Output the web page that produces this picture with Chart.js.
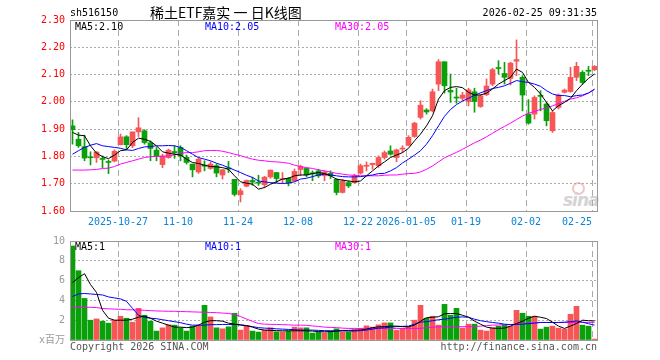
<!DOCTYPE html>
<html lang="zh">
<head>
<meta charset="UTF-8">
<title>稀土ETF嘉实 日K线图</title>
<script src="https://cdn.jsdelivr.net/npm/chart.js"></script>
<style>
  body { margin: 0; background: #fff; }
  .wrap { position: relative; width: 660px; height: 360px; overflow: hidden;
          font-family: "DejaVu Sans Mono", monospace; font-size: 10px; }
  .wrap canvas { position: absolute; left: 0; }
  #kChart { top: 0; }
  #volChart { top: 230px; }
  .txt { position: absolute; white-space: pre; line-height: 10px; z-index: 2; }
  .title { font-family: "Noto Sans CJK SC", sans-serif; font-size: 14px; line-height: 14px; }
  .logo { position: absolute; left: 563px; top: 190px; font: italic bold 17px "DejaVu Sans", sans-serif;
          color: #d4d4d4; letter-spacing: -1px; }
  .eye { position: absolute; left: 572px; top: 182px; width: 9px; height: 9px; border-radius: 50%;
         border: 2px solid #f2c4c4; }
</style>
</head>
<body>
<div class="wrap">
  <div class="eye"></div>
  <div class="logo">sina</div>
  <canvas id="kChart" width="660" height="230"></canvas>
  <canvas id="volChart" width="660" height="130"></canvas>
  <div class="txt" style="left:70px;top:8px;">sh516150</div>
  <div class="txt title" style="left:150px;top:5px;">稀土ETF嘉实 一 日K线图</div>
  <div class="txt" style="right:63px;top:8px;">2026-02-25 09:31:35</div>
  <div class="txt" style="left:75px;top:22px;color:#000;">MA5:2.10</div>
  <div class="txt" style="left:205px;top:22px;color:#0000ff;">MA10:2.05</div>
  <div class="txt" style="left:335px;top:22px;color:#ff00ff;">MA30:2.05</div>
  <div class="txt" style="left:75px;top:242px;color:#000;">MA5:1</div>
  <div class="txt" style="left:205px;top:242px;color:#0000ff;">MA10:1</div>
  <div class="txt" style="left:335px;top:242px;color:#ff00ff;">MA30:1</div>
  <div class="txt" style="left:70px;top:342px;color:#555;">Copyright 2026 SINA.COM</div>
  <div class="txt" style="right:63px;top:342px;color:#555;">http://finance.sina.com.cn</div>
</div>
<script>
const dates = [
  '2025-10-15','2025-10-16','2025-10-17','2025-10-20','2025-10-21','2025-10-22','2025-10-23','2025-10-24','2025-10-27','2025-10-28','2025-10-29','2025-10-30','2025-10-31',
  '2025-11-03','2025-11-04','2025-11-05','2025-11-06','2025-11-07','2025-11-10','2025-11-11','2025-11-12','2025-11-13','2025-11-14','2025-11-17','2025-11-18','2025-11-19','2025-11-20','2025-11-21','2025-11-24','2025-11-25','2025-11-26','2025-11-27','2025-11-28',
  '2025-12-01','2025-12-02','2025-12-03','2025-12-04','2025-12-05','2025-12-08','2025-12-09','2025-12-10','2025-12-11','2025-12-12','2025-12-15','2025-12-16','2025-12-17','2025-12-18','2025-12-19','2025-12-22','2025-12-23','2025-12-24','2025-12-25','2025-12-26','2025-12-29','2025-12-30','2025-12-31',
  '2026-01-05','2026-01-06','2026-01-07','2026-01-08','2026-01-09','2026-01-12','2026-01-13','2026-01-14','2026-01-15','2026-01-16','2026-01-19','2026-01-20','2026-01-21','2026-01-22','2026-01-23','2026-01-26','2026-01-27','2026-01-28','2026-01-29','2026-01-30',
  '2026-02-02','2026-02-03','2026-02-04','2026-02-05','2026-02-06','2026-02-09','2026-02-10','2026-02-11','2026-02-12','2026-02-13','2026-02-24','2026-02-25'
];
const tickDates = ['2025-10-27','2025-11-10','2025-11-24','2025-12-08','2025-12-22','2026-01-05','2026-01-19','2026-02-02','2026-02-25'];
const tickText = ['2025-10-27','11-10','11-24','12-08','12-22','2026-01-05','01-19','02-02','02-25'];

const openP = [
  1.912,1.863,1.836,1.798,1.795,1.792,1.781,1.783,1.843,1.872,
  1.839,1.890,1.894,1.850,1.823,1.770,1.796,1.818,1.833,1.797,
  1.772,1.743,1.768,1.756,1.766,1.732,1.758,1.716,1.660,1.691,
  1.712,1.705,1.696,1.725,1.741,1.715,1.720,1.710,1.752,1.756,
  1.740,1.747,1.729,1.738,1.716,1.668,1.704,1.704,1.739,1.764,
  1.770,1.766,1.796,1.820,1.796,1.827,1.841,1.873,1.943,1.970,
  1.967,2.065,2.147,2.042,2.017,2.013,2.001,2.037,1.983,2.026,
  2.065,2.125,2.104,2.086,2.149,2.090,1.955,1.955,2.024,1.992,
  1.894,1.980,2.035,2.038,2.090,2.108,2.116,2.118
];
const highP = [
  1.934,1.888,1.878,1.817,1.818,1.802,1.787,1.824,1.882,1.876,
  1.890,1.942,1.898,1.857,1.833,1.808,1.827,1.839,1.839,1.805,
  1.772,1.796,1.784,1.780,1.772,1.753,1.782,1.716,1.682,1.714,
  1.724,1.731,1.727,1.750,1.741,1.741,1.723,1.754,1.768,1.758,
  1.747,1.753,1.747,1.747,1.718,1.716,1.710,1.735,1.772,1.780,
  1.775,1.802,1.820,1.839,1.827,1.839,1.876,1.925,2.004,1.975,
  2.047,2.155,2.147,2.102,2.050,2.035,2.050,2.050,2.027,2.084,
  2.123,2.151,2.145,2.145,2.227,2.096,2.008,2.022,2.041,1.998,
  1.967,2.029,2.047,2.127,2.145,2.114,2.130,2.133
];
const lowP = [
  1.845,1.833,1.784,1.769,1.778,1.759,1.737,1.780,1.842,1.827,
  1.832,1.873,1.845,1.784,1.784,1.759,1.793,1.793,1.784,1.772,
  1.725,1.738,1.747,1.753,1.725,1.717,1.741,1.655,1.633,1.688,
  1.694,1.694,1.685,1.720,1.704,1.700,1.692,1.708,1.729,1.725,
  1.711,1.723,1.711,1.719,1.659,1.666,1.686,1.702,1.735,1.747,
  1.753,1.760,1.790,1.805,1.780,1.814,1.839,1.870,1.937,1.955,
  1.963,2.041,2.032,1.998,1.995,2.005,1.985,1.962,1.980,2.023,
  2.059,2.102,2.065,2.062,2.096,1.967,1.918,1.937,1.967,1.912,
  1.888,1.974,2.032,2.035,2.078,2.065,2.096,2.114
];
const closeP = [
  1.898,1.839,1.794,1.795,1.816,1.789,1.778,1.819,1.872,1.843,
  1.890,1.905,1.851,1.829,1.802,1.802,1.823,1.813,1.802,1.778,
  1.751,1.790,1.764,1.772,1.739,1.751,1.754,1.661,1.674,1.712,
  1.706,1.702,1.724,1.750,1.719,1.718,1.704,1.745,1.763,1.732,
  1.736,1.729,1.743,1.729,1.668,1.710,1.692,1.729,1.766,1.767,
  1.775,1.796,1.814,1.808,1.824,1.830,1.870,1.922,1.988,1.963,
  2.037,2.147,2.059,2.036,2.014,2.025,2.044,2.001,2.022,2.058,
  2.118,2.122,2.090,2.142,2.155,2.025,1.922,2.016,2.020,1.931,
  1.961,2.025,2.043,2.090,2.130,2.071,2.112,2.130
];
const ma5 = [
  1.888,1.878,1.876,1.839,1.812,1.799,1.792,1.805,1.821,1.824,
  1.851,1.867,1.863,1.855,1.839,1.817,1.812,1.808,1.805,1.790,
  1.778,1.774,1.768,1.763,1.762,1.759,1.753,1.729,1.707,1.702,
  1.698,1.680,1.686,1.698,1.707,1.717,1.720,1.729,1.732,1.732,
  1.737,1.741,1.737,1.729,1.717,1.713,1.710,1.707,1.710,1.729,
  1.747,1.765,1.780,1.796,1.805,1.814,1.830,1.857,1.882,1.912,
  1.949,2.010,2.041,2.053,2.056,2.052,2.035,2.025,2.025,2.032,
  2.047,2.065,2.078,2.090,2.120,2.108,2.071,2.053,2.029,1.998,
  1.967,1.986,1.998,2.013,2.041,2.065,2.086,2.102
];
const ma10 = [
  1.808,1.821,1.833,1.841,1.847,1.839,1.836,1.833,1.830,1.824,
  1.822,1.829,1.835,1.836,1.839,1.839,1.840,1.839,1.833,1.821,
  1.808,1.796,1.790,1.784,1.775,1.768,1.759,1.750,1.741,1.731,
  1.723,1.710,1.707,1.704,1.702,1.701,1.702,1.707,1.717,1.720,
  1.726,1.732,1.735,1.732,1.729,1.726,1.725,1.725,1.726,1.729,
  1.732,1.737,1.738,1.747,1.759,1.776,1.790,1.805,1.821,1.845,
  1.876,1.912,1.947,1.972,1.990,2.003,2.013,2.024,2.033,2.041,
  2.049,2.053,2.059,2.068,2.078,2.074,2.071,2.065,2.057,2.041,
  2.029,2.023,2.023,2.019,2.023,2.025,2.032,2.047
];
const ma30 = [
  1.750,1.750,1.750,1.751,1.752,1.756,1.757,1.763,1.772,1.778,
  1.784,1.790,1.796,1.799,1.800,1.800,1.802,1.806,1.811,1.814,
  1.814,1.817,1.821,1.822,1.822,1.819,1.814,1.808,1.803,1.796,
  1.790,1.786,1.784,1.781,1.780,1.778,1.775,1.768,1.763,1.759,
  1.756,1.751,1.747,1.743,1.738,1.735,1.732,1.731,1.729,1.729,
  1.729,1.729,1.731,1.732,1.732,1.735,1.737,1.738,1.743,1.753,
  1.765,1.780,1.795,1.805,1.815,1.826,1.838,1.850,1.860,1.872,
  1.885,1.898,1.910,1.922,1.935,1.948,1.958,1.965,1.972,1.978,
  1.985,1.994,2.002,2.010,2.015,2.022,2.033,2.045
];
const volume = [
  9.5,7.0,4.2,2.0,2.13,1.9,1.7,2.0,2.4,2.2,
  1.8,3.2,2.5,1.9,0.9,1.23,1.53,1.5,1.23,0.9,
  1.4,1.5,3.5,2.33,1.23,1.13,1.33,2.7,1.0,1.43,
  0.9,0.8,1.0,1.23,0.83,0.83,0.9,1.3,1.23,1.23,
  0.7,0.8,0.73,0.9,1.13,0.8,0.8,1.03,1.17,1.43,
  1.3,1.53,1.73,1.73,0.97,1.17,1.33,2.0,3.5,2.2,
  2.4,1.5,3.6,2.5,3.2,1.2,1.6,1.6,1.0,0.9,
  1.23,1.4,1.5,1.4,3.0,2.7,2.4,2.4,1.1,1.3,
  1.4,1.2,1.1,2.6,3.4,1.5,1.4,0.1
];
const vma5 = [
  5.8,6.3,6.7,5.6,4.8,3.0,2.2,2.0,2.0,2.0,
  2.1,2.3,2.4,2.2,1.9,1.7,1.5,1.3,1.3,1.25,
  1.3,1.5,1.8,1.95,1.95,1.9,1.7,1.6,1.5,1.45,
  1.3,1.1,1.0,0.97,0.95,0.93,0.93,0.93,0.93,0.93,
  0.9,0.85,0.83,0.85,0.9,0.95,0.97,1.0,1.0,1.1,
  1.25,1.33,1.35,1.4,1.4,1.35,1.33,1.5,1.9,2.25,
  2.3,2.35,2.65,2.67,2.67,2.5,2.3,1.9,1.6,1.3,
  1.2,1.17,1.2,1.4,1.67,1.9,2.2,2.4,2.3,2.17,
  1.8,1.4,1.17,1.4,1.67,2.0,1.95,1.93
];
const vma10 = [
  4.4,4.65,4.7,4.65,4.6,4.55,4.35,4.25,4.15,3.9,
  3.2,2.5,2.3,2.2,2.15,2.05,1.95,1.85,1.75,1.6,
  1.5,1.5,1.5,1.55,1.55,1.57,1.57,1.57,1.55,1.45,
  1.35,1.25,1.2,1.17,1.13,1.1,1.07,1.05,1.0,1.0,
  1.0,0.97,0.95,0.93,0.93,0.92,0.9,0.9,0.95,1.0,
  1.1,1.2,1.23,1.3,1.35,1.38,1.4,1.6,1.8,1.85,
  1.95,2.05,2.1,2.2,2.3,2.33,2.3,2.1,1.95,1.85,
  1.77,1.7,1.6,1.55,1.57,1.6,1.65,1.7,1.77,1.77,
  1.77,1.77,1.8,1.85,1.93,1.8,1.65,1.5
];
const vma30 = [
  3.3,3.3,3.3,3.3,3.28,3.18,3.15,3.12,3.1,3.05,
  3.05,3.03,3.0,2.97,2.93,2.92,2.9,2.9,2.88,2.86,
  2.84,2.82,2.8,2.78,2.76,2.72,2.68,2.58,2.38,2.12,
  1.88,1.66,1.6,1.58,1.57,1.55,1.53,1.5,1.5,1.48,
  1.42,1.37,1.3,1.27,1.25,1.2,1.17,1.17,1.17,1.17,
  1.17,1.17,1.17,1.17,1.17,1.17,1.17,1.17,1.17,1.25,
  1.3,1.33,1.33,1.33,1.33,1.35,1.35,1.35,1.4,1.45,
  1.5,1.52,1.55,1.57,1.6,1.65,1.72,1.75,1.77,1.77,
  1.77,1.77,1.77,1.77,1.78,1.78,1.78,1.78
];

const UP = '#f75656', DOWN = '#0aa00a';
const MONO = "'DejaVu Sans Mono', 'Noto Sans CJK SC', monospace";
const tickIdx = tickDates.map(d => dates.indexOf(d));
// candle sits a little left of the slot middle, like the original
const at = i => i + 5 / 12;
const candleColor = dates.map((d, i) => closeP[i] >= openP[i] ? UP : DOWN);
const xy = arr => arr.map((v, i) => ({ x: at(i), y: v }));

Chart.defaults.font.family = MONO;
Chart.defaults.font.size = 10;

const framePlugin = {
  id: 'frame',
  afterDraw(chart) {
    const { ctx, chartArea: a } = chart;
    ctx.save();
    ctx.strokeStyle = '#999';
    ctx.lineWidth = 1;
    ctx.strokeRect(a.left + 0.5, a.top + 0.5, a.right - a.left - 1, a.bottom - a.top);
    ctx.restore();
  }
};

function xAxis(showLabels, height) {
  return {
    type: 'linear',
    offset: false,
    min: 0,
    max: dates.length,
    afterBuildTicks: s => { s.ticks = tickIdx.map(v => ({ value: v })); },
    afterFit: s => { s.height = height; },
    ticks: {
      display: showLabels,
      autoSkip: false,
      maxRotation: 0,
      padding: 5,
      color: '#0a84d6',
      // last label is pushed left so it stays inside the frame
      callback: (v, i) => i === tickText.length - 1 ? tickText[i] + '     ' : tickText[i]
    },
    grid: { color: '#aaa', drawTicks: false, offset: false },
    border: { display: false, dash: [6, 4] }
  };
}

function maLine(arr, color) {
  return {
    type: 'line', data: xy(arr), borderColor: color, borderWidth: 1,
    pointRadius: 0, tension: 0, order: 0
  };
}

new Chart(document.getElementById('kChart'), {
  type: 'bar',
  data: {
    datasets: [
      maLine(ma5, '#000000'),
      maLine(ma10, '#0000ff'),
      maLine(ma30, '#ff00ff'),
      {
        data: dates.map((d, i) => ({ x: at(i), y: [openP[i], closeP[i]] })),
        backgroundColor: candleColor, barThickness: 5, minBarLength: 1, grouped: false, order: 1
      },
      {
        data: dates.map((d, i) => ({ x: at(i), y: [lowP[i], highP[i]] })),
        backgroundColor: candleColor, barThickness: 1, grouped: false, order: 2
      }
    ]
  },
  options: {
    responsive: false,
    animation: false,
    events: [],
    layout: { padding: { left: 0, right: 62, top: 20, bottom: 0 } },
    plugins: { legend: { display: false }, tooltip: { enabled: false } },
    scales: {
      x: xAxis(true, 19),
      y: {
        min: 1.6,
        max: 2.3,
        afterFit: s => { s.width = 70; },
        ticks: { stepSize: 0.1, padding: 5, color: '#ff0000', callback: v => v.toFixed(2) },
        grid: { color: '#aaa', drawTicks: false },
        border: { display: false, dash: [2, 2] }
      }
    }
  },
  plugins: [framePlugin]
});

new Chart(document.getElementById('volChart'), {
  type: 'bar',
  data: {
    datasets: [
      maLine(vma5, '#000000'),
      maLine(vma10, '#0000ff'),
      maLine(vma30, '#ff00ff'),
      {
        data: xy(volume),
        backgroundColor: candleColor, barThickness: 5, grouped: false, order: 1
      }
    ]
  },
  options: {
    responsive: false,
    animation: false,
    events: [],
    layout: { padding: { left: 0, right: 62, top: 10, bottom: 20 } },
    plugins: { legend: { display: false }, tooltip: { enabled: false } },
    scales: {
      x: xAxis(false, 0),
      y: {
        min: 0,
        max: 10,
        afterFit: s => { s.width = 70; },
        ticks: { stepSize: 2, padding: 5, color: '#999', callback: v => v === 0 ? 'x百万' : v },
        grid: { color: '#aaa', drawTicks: false },
        border: { display: false, dash: [2, 2] }
      }
    }
  },
  plugins: [framePlugin]
});
</script>
</body>
</html>
